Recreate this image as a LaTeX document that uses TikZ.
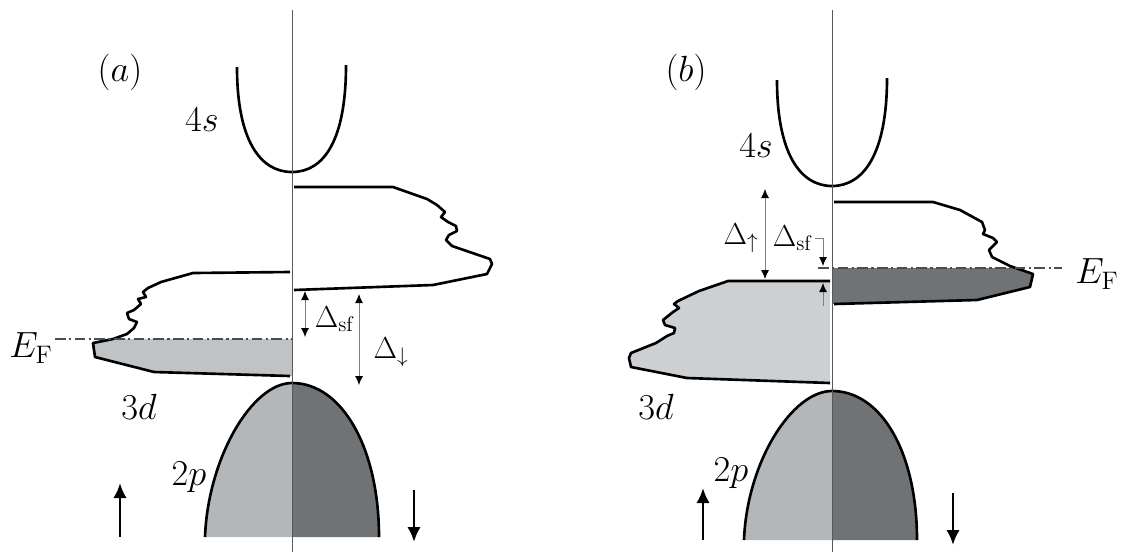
\documentclass[tikz,border=0pt]{standalone}
\usepackage{amsmath}
\usepackage{tikz}
\usetikzlibrary{arrows.meta, positioning, calc}
\definecolor{upfill}{HTML}{B4B7BA}
\definecolor{dnfill}{HTML}{707376}
\definecolor{dfilla}{HTML}{C0C3C6}
\definecolor{dfillb}{HTML}{CDD0D3}
\begin{document}
\begin{tikzpicture}[x=0.02cm, y=-0.02cm,
    every node/.style={font=\fontsize{20}{23}\selectfont, inner sep=1pt},
    lbl/.style={font=\fontsize{17}{20}\selectfont},
    band/.style={line width=1.5pt, line join=round},
    spinaxis/.style={draw=black!65, line width=0.45pt},
    fermi/.style={black!70, line width=0.6pt, dash pattern=on 6pt off 2pt on 1.2pt off 2pt},
    gap/.style={{Latex[length=1.8mm,width=1.6mm,color=black]}-{Latex[length=1.8mm,width=1.6mm,color=black]}, black!50, line width=0.5pt},
    gapone/.style={-{Latex[length=1.8mm,width=1.6mm,color=black]}, black!50, line width=0.5pt},
    spin/.style={-{Latex[length=3mm,width=2.7mm]}, line width=1.6pt}
]
\useasboundingbox (0,0) rectangle (1125,552);

% panel (a)
\coordinate (aTop) at (292,10);
\coordinate (aBot) at (292,552);
\fill[upfill] (205,537) .. controls (208,458) and (252,383) .. (292,383) -- (292,537) -- cycle;
\fill[dnfill] (292,383) .. controls (342,383) and (379,448) .. (379,537) -- (292,537) -- cycle;
\draw[band] (205,537) .. controls (208,458) and (252,383) .. (292,383)
    .. controls (342,383) and (379,448) .. (379,537);
\fill[dfilla] (292,339) -- (113,339) -- (93,343) -- (95,357) -- (154,372) -- (292,376) -- cycle;
\draw[band] (290,272) -- (193,273) -- (161,282) -- (148,288) -- (143,292) -- (146,297)
    -- (138,299) -- (141,304) -- (134,310) -- (127,313) -- (129,319) -- (137,322)
    -- (134,328) -- (127,334) -- (113,339) -- (93,343) -- (95,357) -- (154,372) -- (290,376);
\draw[band] (294,187) -- (393,187) -- (427,199) -- (437,205) -- (445,212) -- (441,217)
    -- (448,222) -- (456,226) -- (457,231) -- (449,235) -- (446,240) -- (452,246)
    -- (490,259) -- (492,264) -- (487,274) -- (433,285) -- (294,290);
\draw[band] (237,67) .. controls (237,140) and (260,172) .. (292,172)
    .. controls (324,172) and (346,140) .. (346,65);
\draw[spinaxis] (aTop) -- (aBot);
\coordinate (aFermi) at (55,339);
\draw[fermi] (aFermi) -- (292,339);

\node (la) at (120,72) {$(a)$};
\node (sa) at (202,120) {$4s$};
\node (efa) at (31,348) {$E_{\mathrm{F}}$};
\node (da) at (139,407) {$3d$};
\node (pa) at (189,477) {$2p$};
\node[lbl] (dsfa) at (335,319) {$\Delta_{\mathrm{sf}}$};
\node[lbl] (ddna) at (391,352) {$\Delta_{\downarrow}$};

\coordinate (aSfTop) at (305,291);
\coordinate (aSfBot) at (305,337);
\coordinate (aDnTop) at (359,294);
\coordinate (aDnBot) at (359,385);
\draw[gap] (aSfTop) -- (aSfBot);
\draw[gap] (aDnTop) -- (aDnBot);

\coordinate (aUpS) at (120,537);
\coordinate (aUpE) at (120,483);
\coordinate (aDnS) at (414,490);
\coordinate (aDnE) at (414,542);
\draw[spin] (aUpS) -- (aUpE);
\draw[spin] (aDnS) -- (aDnE);

% panel (b)
\coordinate (bTop) at (832,10);
\coordinate (bBot) at (832,552);
\fill[upfill] (744,540) .. controls (747,462) and (792,391) .. (832,391) -- (832,540) -- cycle;
\fill[dnfill] (832,391) .. controls (881,391) and (917,452) .. (917,540) -- (832,540) -- cycle;
\draw[band] (744,540) .. controls (747,462) and (792,391) .. (832,391)
    .. controls (881,391) and (917,452) .. (917,540);
\draw[band, fill=dfillb] (830,281) -- (728,281) -- (699,291) -- (678,301) -- (674,304)
    -- (679,308) -- (673,312) -- (668,316) -- (663,320) -- (665,325) -- (675,328)
    -- (674,333) -- (667,336) -- (656,343) -- (631,353) -- (629,358) -- (631,367)
    -- (687,378) -- (830,383);
\fill[dnfill] (833,268) -- (1016,268) -- (1033,274) -- (1030,287) -- (977,300) -- (833,304) -- cycle;
\draw[band] (834,202) -- (933,202) -- (960,210) -- (982,222) -- (985,230) -- (983,234)
    -- (993,238) -- (997,242) -- (993,246) -- (989,250) -- (992,257) -- (1010,266)
    -- (1033,274) -- (1030,287) -- (977,300) -- (834,304);
\draw[band] (777,80) .. controls (777,153) and (800,186) .. (832,186)
    .. controls (864,186) and (887,153) .. (887,78);
\draw[spinaxis] (bTop) -- (bBot);
\coordinate (bFermi) at (1062,268);
\draw[fermi] (818,268) -- (bFermi);

\node (lb) at (686,72) {$(b)$};
\node (sb) at (756,146) {$4s$};
\node (efb) at (1097,274) {$E_{\mathrm{F}}$};
\node (db) at (656,407) {$3d$};
\node (pb) at (731,473) {$2p$};
\node[lbl] (dupb) at (741,238) {$\Delta_{\uparrow}$};
\node[lbl] (dsfb) at (793,238) {$\Delta_{\mathrm{sf}}$};

\coordinate (bUpTop) at (765,189);
\coordinate (bUpBot) at (765,279);
\draw[gap] (bUpTop) -- (bUpBot);
\coordinate (bSfHook) at (815,238);
\coordinate (bSfTip) at (823,266);
\coordinate (bSfLow) at (823,306);
\coordinate (bSfLowTip) at (823,283);
\draw[gapone] (bSfHook) -| (bSfTip);
\draw[gapone] (bSfLow) -- (bSfLowTip);

\coordinate (bUpS) at (703,540);
\coordinate (bUpE) at (703,488);
\coordinate (bDnS) at (953,493);
\coordinate (bDnE) at (953,545);
\draw[spin] (bUpS) -- (bUpE);
\draw[spin] (bDnS) -- (bDnE);
\end{tikzpicture}
\end{document}
